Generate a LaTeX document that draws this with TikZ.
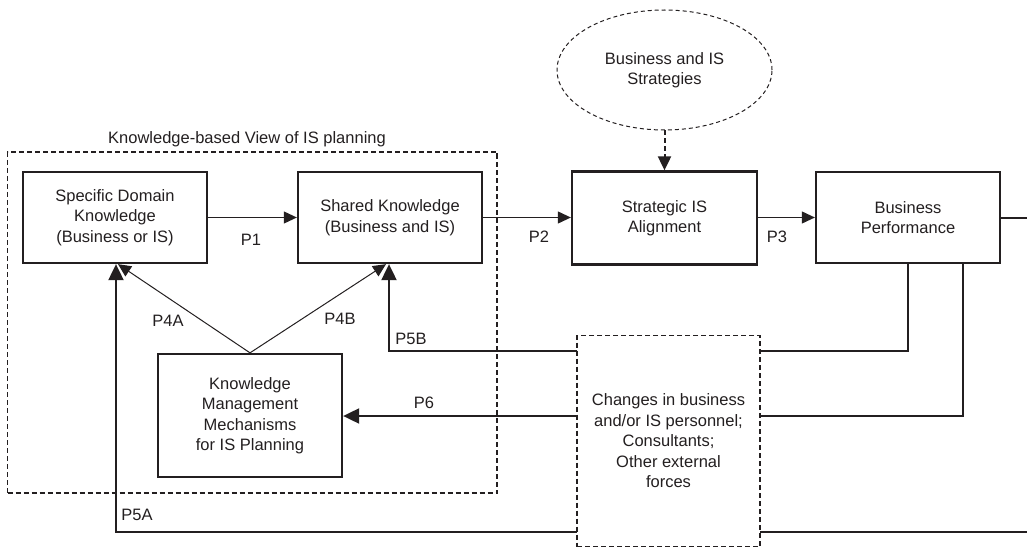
\documentclass[tikz,border=0pt]{standalone}
\usepackage{fontspec}
\setmainfont{Liberation Sans}
\usetikzlibrary{shapes.geometric,arrows.meta}
\definecolor{ink}{RGB}{35,31,32}
\begin{document}
\begin{tikzpicture}[x=1pt,y=-1pt,
  every node/.style={text=ink,font=\fontsize{16.5}{20.5}\selectfont,align=center,inner sep=0pt},
  box/.style={draw=ink,line width=2.3pt,minimum width=184pt,minimum height=91pt},
  thinarrow/.style={draw=ink,line width=1pt,-{Triangle[length=13pt,width=12pt]}},
  thickarrow/.style={draw=ink,line width=2pt,-{Triangle[length=16pt,width=15pt]}},
  thickline/.style={draw=ink,line width=2pt},
  dashline/.style={draw=ink,line width=1.6pt,dash pattern=on 5pt off 3pt},
  plabel/.style={text=ink}]
\useasboundingbox (0,0) rectangle (1027,548);

% group frame for the knowledge-based view
\node[dashline,minimum width=489.5pt,minimum height=341pt] (K) at (252.25,322.5) {};
\node (Klab) at (247,139) {Knowledge-based View of IS planning};

% main boxes
\node[box] (A) at (115,217.5) {Specific Domain\\Knowledge\\(Business or IS)};
\node[box] (B) at (390,217.5) {Shared Knowledge\\(Business and IS)};
\node[box,minimum width=185pt,minimum height=93pt] (C) at (664.5,218) {Strategic IS\\Alignment};
\node[box] (D) at (908,217.5) {Business\\Performance};
\node[box,minimum height=123pt] (E) at (250,415.5) {Knowledge\\Management\\Mechanisms\\for IS Planning};

% strategies ellipse
\node[ellipse,draw=ink,line width=1pt,dash pattern=on 4pt off 3pt,
      minimum width=215pt,minimum height=120pt] (S) at (664.5,70) {Business and IS\\Strategies};

% routing points
\coordinate (outR) at (1027,217.5);
\coordinate (p5b) at (389,351);
\coordinate (p6) at (963,416);
\coordinate (p5a) at (1027,532);

% forward chain
\draw[thinarrow] (A.east) -- (B.west);
\draw[thinarrow] (B.east) -- (B.east -| C.west);
\draw[thinarrow] (C.east |- D.west) -- (D.west);
\draw[draw=ink,line width=2pt,dash pattern=on 5pt off 3pt,-{Triangle[length=14pt,width=13pt]}] (S.south) -- (C.north);
\draw[thickline] (D.east) -- (outR);

% knowledge management links
\draw[thinarrow] (E.north) -- ([xshift=3pt]A.south);
\draw[thinarrow] (E.north) -- ([xshift=-4pt]B.south);

% feedback loops
\draw[thickarrow] (D.south) |- (p5b) -- (B.south -| p5b);
\draw[thickarrow] (D.south -| p6) -- (p6) -- (p6 -| E.east);
\draw[thickarrow] (p5a) -| ([xshift=1pt]A.south);

% external forces
\node[draw=ink,fill=white,line width=1.6pt,dash pattern=on 5pt off 3pt,
      minimum width=183pt,minimum height=211pt] (X) at (668.5,441)
      {Changes in business\\and/or IS personnel;\\Consultants;\\Other external\\forces};

% proposition labels
\node[plabel] (l1) at (251,240) {P1};
\node[plabel] (l2) at (539,237) {P2};
\node[plabel] (l3) at (777,237) {P3};
\node[plabel] (l4a) at (168,321) {P4A};
\node[plabel] (l4b) at (340,319) {P4B};
\node[plabel] (l5b) at (411,339) {P5B};
\node[plabel] (l6) at (424,403) {P6};
\node[plabel] (l5a) at (137,515) {P5A};
\end{tikzpicture}
\end{document}
